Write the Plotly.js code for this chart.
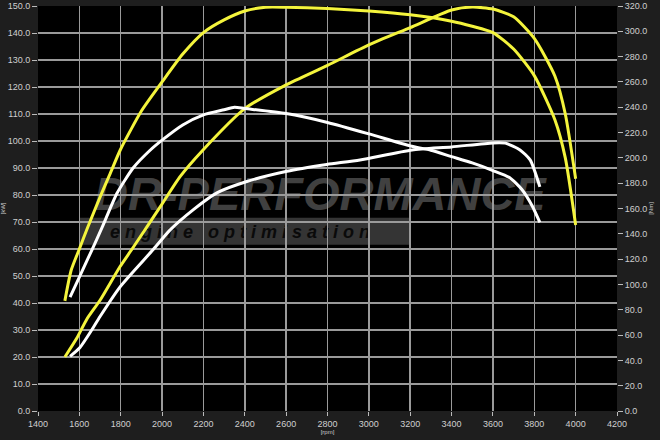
<!DOCTYPE html>
<html>
<head>
<meta charset="utf-8">
<script src="https://cdn.plot.ly/plotly-3.0.1.min.js"></script>
<style>
html,body{margin:0;padding:0;background:#1e1e1e;}
#chart{width:660px;height:440px;}
</style>
</head>
<body>
<div id="chart"></div>
<script>
// Tuned torque (Nm, right axis)
const tunedTorqueRpm = [1530,1560,1600,1640,1700,1750,1800,1900,2000,2100,2200,2300,2400,2500,2600,2800,3000,3200,3400,3500,3600,3700,3800,3900,3950,4000];
const tunedTorqueNm  = [87,111,128,145,169,188,207,237,260,282,299,309,316,319,319,318,316,313,308,304,299,286,265,230,200,147];
// Stock torque (Nm, right axis)
const stockTorqueRpm = [1555,1595,1660,1710,1782,1860,1942,2000,2100,2200,2300,2350,2400,2600,2800,3000,3200,3300,3400,3500,3600,3680,3740,3790,3827];
const stockTorqueNm  = [90,104,127,145,172,192,206,214,226,234,238,240,239,235,228,219,209.5,206,201,196,190,184.5,175,162,149];
// Tuned power (kW, left axis)
const tunedPowerRpm = [1530,1588,1636,1700,1797,1855,1990,2087,2198,2400,2600,2800,3000,3200,3400,3500,3600,3700,3800,3900,3950,4000];
const tunedPowerKw  = [20,27,34,41,53.5,60,75.5,86.8,96.7,112,120.8,128,135.6,142,148.5,149.6,148.9,146,138,124,110,86];
// Stock power (kW, left axis)
const stockPowerRpm = [1555,1603,1660,1700,1797,1956,2038,2150,2265,2410,2604,2797,2957,3209,3400,3600,3660,3731,3780,3827];
const stockPowerKw  = [20.2,23.5,30,35,46,59.7,67,74.5,80.8,85,88.8,91.3,93,96.7,97.8,99.3,99.2,96.7,93,83];

const xTicks = [1400,1600,1800,2000,2200,2400,2600,2800,3000,3200,3400,3600,3800,4000,4200];

const YELLOW = '#f4f43c';
const WHITE = '#ffffff';
const lineCfg = (c) => ({color:c, width:3, shape:'spline', smoothing:0.6});

const traces = [
  {x: stockPowerRpm, y: stockPowerKw, mode:'lines', line: lineCfg(WHITE), yaxis:'y', name:'stock power'},
  {x: stockTorqueRpm, y: stockTorqueNm, mode:'lines', line: lineCfg(WHITE), yaxis:'y2', name:'stock torque'},
  {x: tunedPowerRpm, y: tunedPowerKw, mode:'lines', line: lineCfg(YELLOW), yaxis:'y', name:'tuned power'},
  {x: tunedTorqueRpm, y: tunedTorqueNm, mode:'lines', line: lineCfg(YELLOW), yaxis:'y2', name:'tuned torque'}
];

const tickFont = {family:'Liberation Sans, Arial, sans-serif', size:9, color:'#cfcfcf'};
const grid = '#9a9a9a';

const layout = {
  width:660, height:440,
  margin:{l:38, r:43, t:6, b:29},
  paper_bgcolor:'#1e1e1e',
  plot_bgcolor:'#000000',
  showlegend:false,
  xaxis:{
    range:[1400,4200], tickvals:xTicks, ticktext:xTicks.map(String),
    showgrid:true, gridcolor:grid, gridwidth:1.5, zeroline:false,
    ticks:'outside', ticklen:4, tickcolor:'#bbbbbb', tickfont:tickFont,
    title:{text:'[rpm]', font:{family:'Liberation Sans, Arial', size:6, color:'#cccccc'}, standoff:2},
    showline:false, fixedrange:true
  },
  yaxis:{
    range:[0,150], dtick:10, tickformat:'.1f',
    showgrid:true, gridcolor:grid, gridwidth:1.5, zeroline:false,
    ticks:'outside', ticklen:5, tickcolor:'#bbbbbb', tickfont:tickFont,
    title:{text:'[kW]', font:{family:'Liberation Sans, Arial', size:6, color:'#cccccc'}, standoff:2},
    showline:false, fixedrange:true
  },
  yaxis2:{
    range:[0,320], dtick:20, tickformat:'.1f', overlaying:'y', side:'right',
    showgrid:false, zeroline:false,
    ticks:'outside', ticklen:5, tickcolor:'#bbbbbb', tickfont:tickFont,
    title:{text:'[Nm]', font:{family:'Liberation Sans, Arial', size:6, color:'#cccccc'}, standoff:2},
    showline:false, fixedrange:true
  },
  shapes:[
    {type:'rect', xref:'paper', yref:'paper', x0:0.0725, x1:0.6425, y0:0.4106, y1:0.4772,
     fillcolor:'#343434', line:{width:0}, layer:'below'}
  ],
  annotations:[
    {xref:'x', yref:'y', x:2764, y:70.6, yanchor:'bottom', borderpad:0, borderwidth:0,
     text:'<b><i>DR-PERFORMANCE</i></b>', showarrow:false,
     font:{family:'Liberation Sans, Arial', size:47, color:'#404040'}},
    {xref:'x', yref:'y', x:2377, y:70.0, yanchor:'top', borderpad:0, borderwidth:0,
     text:'<b><i>e n g i n e   o p t i m i s a t i o n</i></b>', showarrow:false,
     font:{family:'Liberation Sans, Arial', size:18, color:'#0a0a0a'}}
  ]
};

Plotly.newPlot('chart', traces, layout, {staticPlot:true, displayModeBar:false}).then(function(gd){
  // put the watermark text beneath the grid and curves, like the reference logo
  const below = gd.querySelector('.layer-below');
  if (below) {
    gd.querySelectorAll('.infolayer .annotation').forEach(function(a){ below.appendChild(a); });
  }
});
</script>
</body>
</html>
